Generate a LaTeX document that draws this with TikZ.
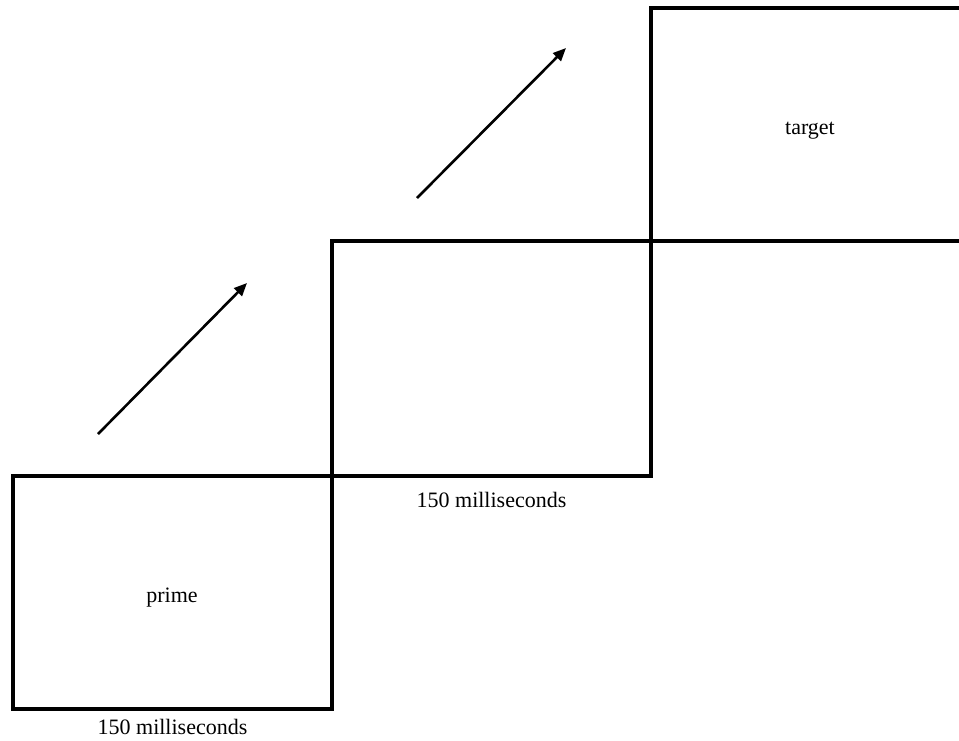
\documentclass[tikz,border=0pt]{standalone}
\usepackage{fontspec}
\setmainfont{Liberation Serif}
\usetikzlibrary{arrows.meta,positioning}

\begin{document}
\begin{tikzpicture}[
  x=1pt, y=-1pt,
  font=\fontsize{22}{25}\selectfont,
  >={Triangle[length=13pt,width=11pt]},
  frame/.style={
    draw=black, line width=4pt, fill=none,
    minimum width=319pt, minimum height=233pt,
    inner sep=0pt, outer sep=0pt
  },
  step arrow/.style={->, line width=2.6pt, black},
  txt/.style={inner sep=0pt},
  dur/.style={inner sep=0pt}
]
\useasboundingbox (0,0) rectangle (959,740);
\clip (0,0) rectangle (959,740);

% Frames
\node[frame] (prime) at (172.5,592) {};
\node[frame, minimum height=235pt] (blank) at (491.5,358.5) {};
\node[frame] (target) at (810.5,124.5) {};

% Frame texts
\node[txt] (primetxt) at (172,598) {prime};
\node[txt] (targettxt) at (810,131) {target};

% Durations
\node[dur, below=11pt of prime] (dur1) {150 milliseconds};
\node[dur, below=16pt of blank] (dur2) {150 milliseconds};

% Arrows
\coordinate (a1s) at (98,434);
\coordinate (a1e) at (247,283);
\coordinate (a2s) at (417,198);
\coordinate (a2e) at (566,48);
\draw[step arrow] (a1s) -- (a1e);
\draw[step arrow] (a2s) -- (a2e);

\end{tikzpicture}
\end{document}
